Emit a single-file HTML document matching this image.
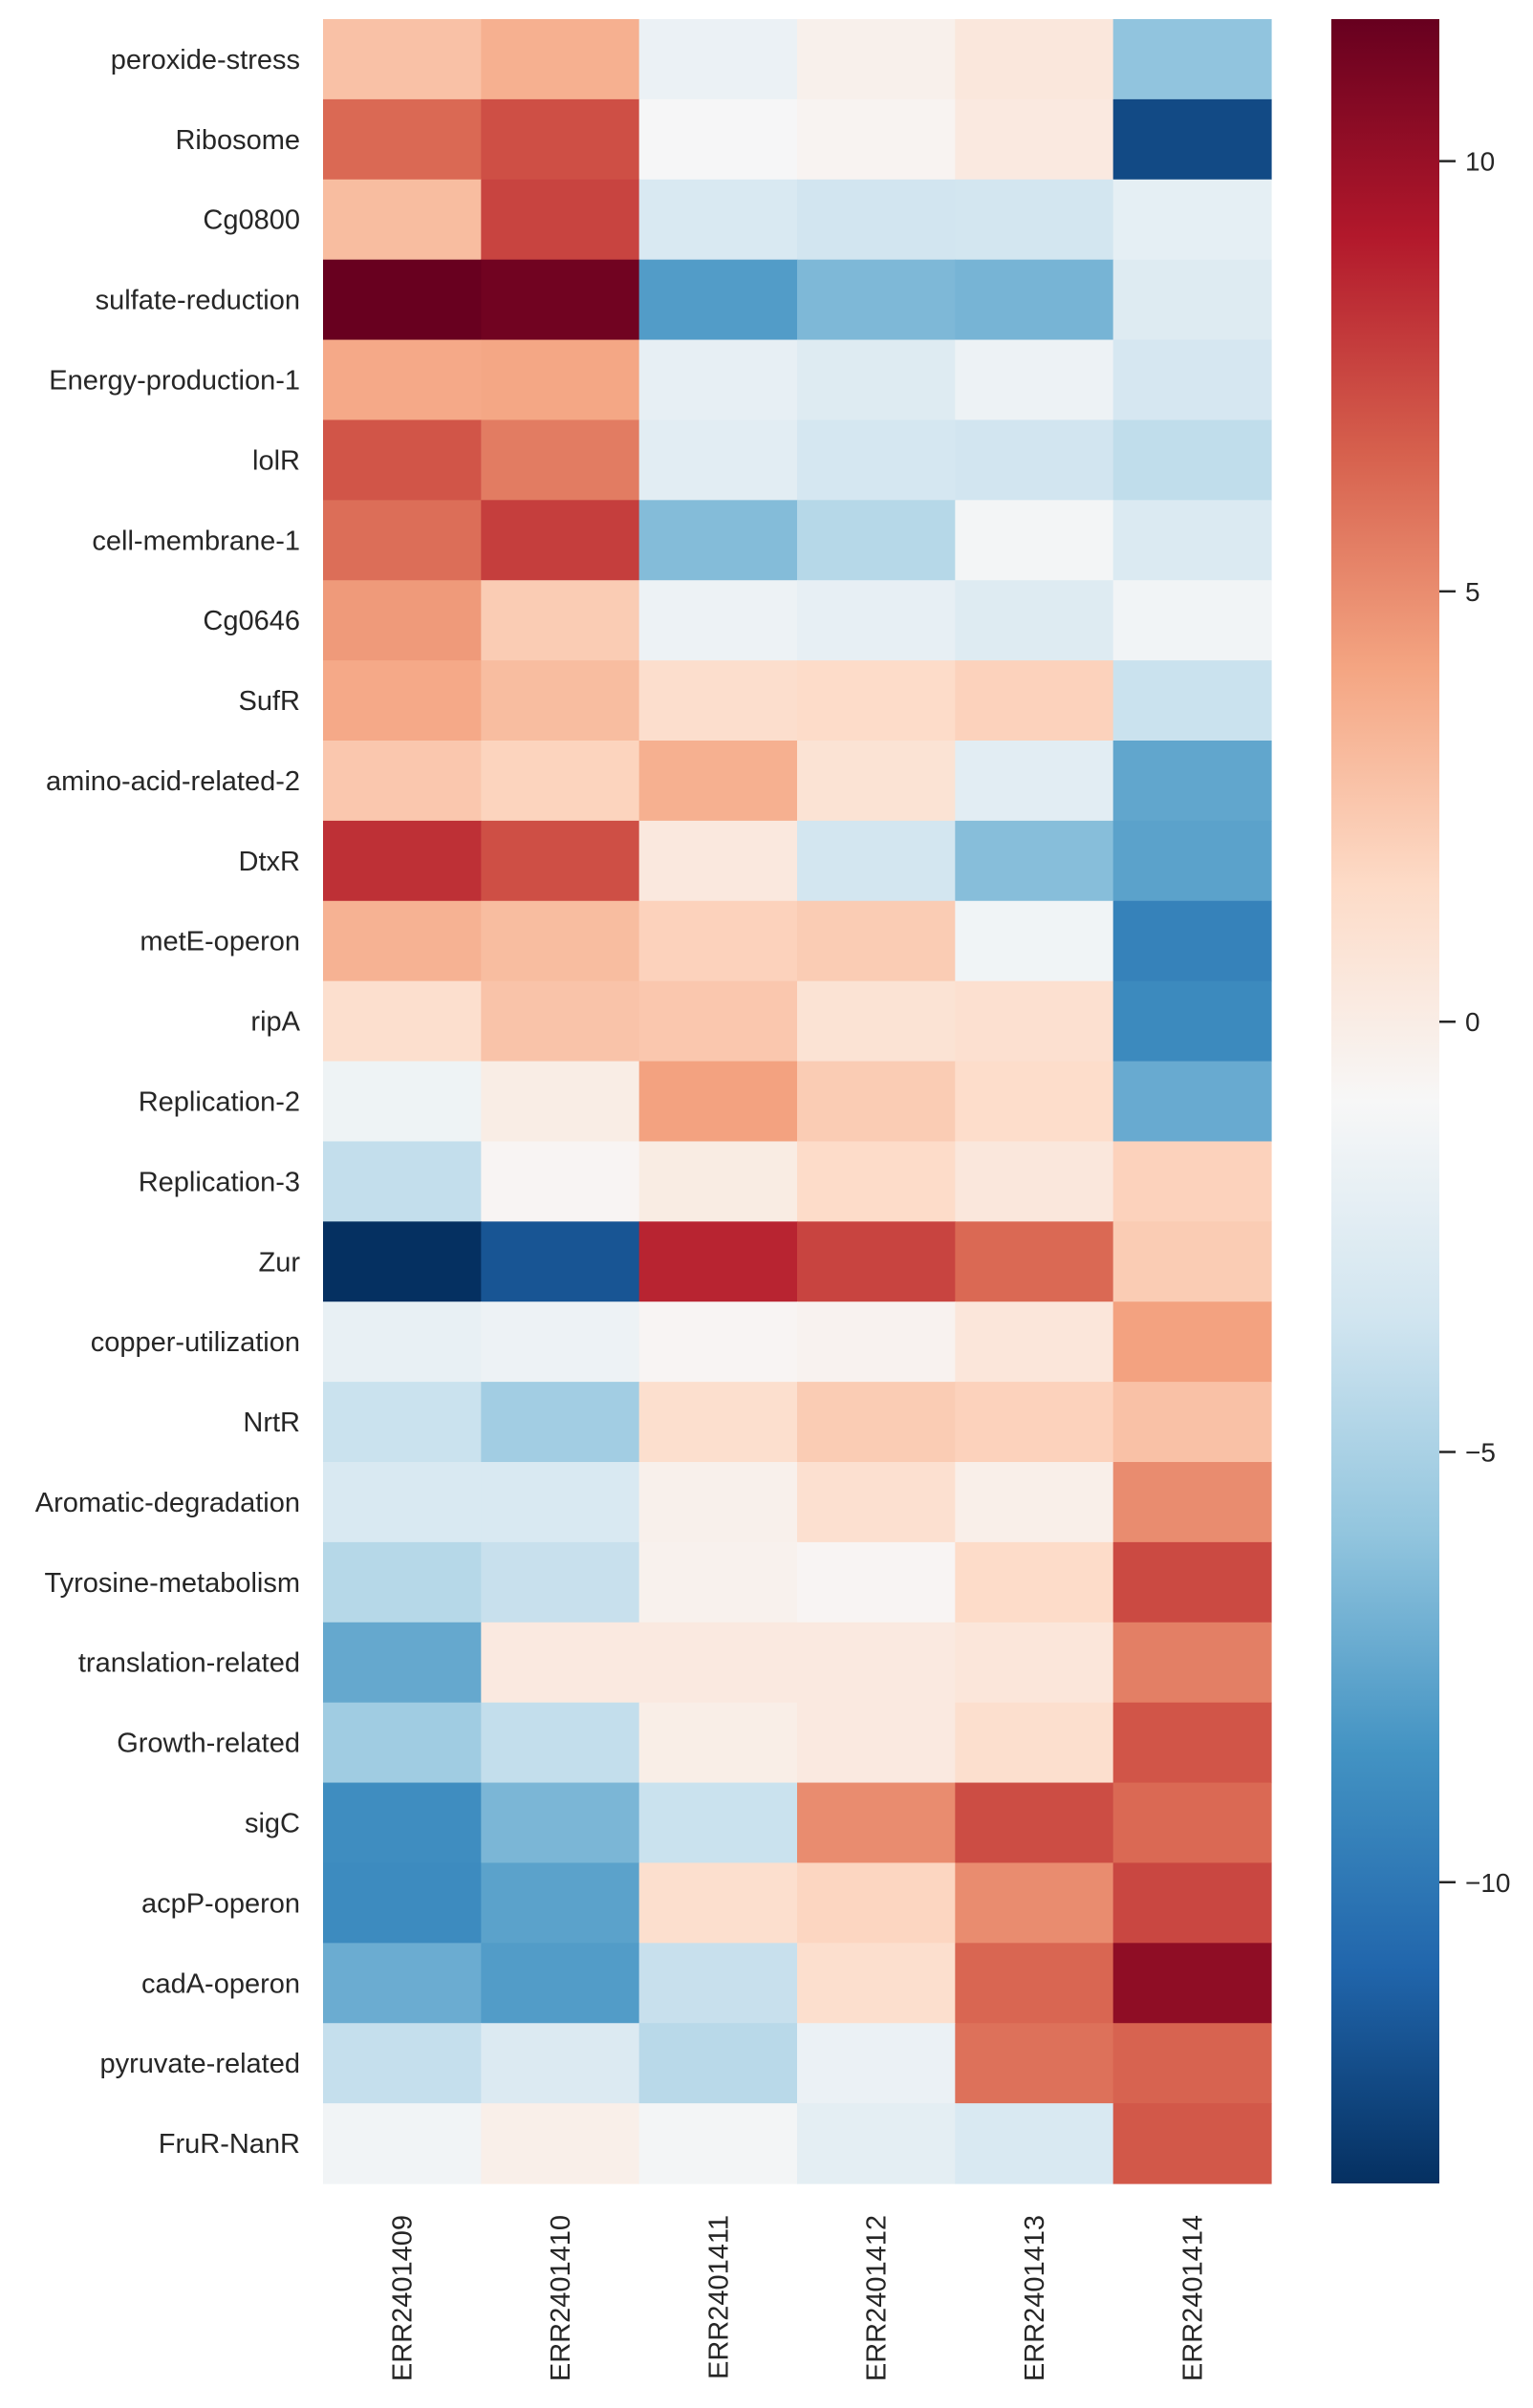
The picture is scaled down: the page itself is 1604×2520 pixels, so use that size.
<!DOCTYPE html>
<html><head><meta charset="utf-8"><style>
html,body{margin:0;padding:0;background:#fff;}
svg text{font-family:"Liberation Sans",Arial,sans-serif;fill:#262626;}
</style></head><body>
<svg id="chart" width="1604" height="2515" viewBox="0 0 1604 2515" xmlns="http://www.w3.org/2000/svg">
<defs>
<linearGradient id="cbgrad" x1="0" y1="1" x2="0" y2="0">
<stop offset="0" stop-color="#053061"/><stop offset="0.1" stop-color="#2166ac"/><stop offset="0.2" stop-color="#4393c3"/><stop offset="0.3" stop-color="#92c5de"/><stop offset="0.4" stop-color="#d1e5f0"/><stop offset="0.5" stop-color="#f7f7f7"/><stop offset="0.6" stop-color="#fddbc7"/><stop offset="0.7" stop-color="#f4a582"/><stop offset="0.8" stop-color="#d6604d"/><stop offset="0.9" stop-color="#b2182b"/><stop offset="1" stop-color="#67001f"/>
</linearGradient>
</defs>
<g id="cells"></g>
<g id="ylabels"></g>
<g id="xlabels"></g>
<rect x="1393" y="20" width="113" height="2265" fill="url(#cbgrad)"/>
<g id="cbticks"></g>
</svg>
<script>
const rows = ["peroxide-stress","Ribosome","Cg0800","sulfate-reduction","Energy-production-1","lolR","cell-membrane-1","Cg0646","SufR","amino-acid-related-2","DtxR","metE-operon","ripA","Replication-2","Replication-3","Zur","copper-utilization","NrtR","Aromatic-degradation","Tyrosine-metabolism","translation-related","Growth-related","sigC","acpP-operon","cadA-operon","pyruvate-related","FruR-NanR"];
const cols = ["ERR2401409","ERR2401410","ERR2401411","ERR2401412","ERR2401413","ERR2401414"];
const values = [
[2.8,3.6,-1.7,-0.3,0.5,-6.0],
[6.3,7.2,-1.0,-0.6,0.3,-12.3],
[3.0,7.6,-2.9,-3.4,-3.3,-2.1],
[11.6,11.3,-8.0,-6.6,-6.8,-2.6],
[3.9,4.0,-2.0,-2.6,-1.6,-3.1],
[7.0,5.6,-2.3,-3.2,-3.4,-4.1],
[6.1,7.8,-6.4,-4.5,-1.2,-2.8],
[4.5,2.3,-1.6,-2.0,-2.6,-1.3],
[3.9,3.0,1.3,1.5,2.0,-3.7],
[2.5,1.9,3.6,0.9,-2.3,-7.5],
[8.3,7.2,0.4,-3.3,-6.3,-7.7],
[3.5,3.0,2.0,2.3,-1.4,-9.4],
[1.2,2.7,2.5,0.9,1.1,-9.0],
[-1.5,0.0,4.2,2.3,1.4,-7.3],
[-4.0,-0.7,0.1,1.5,0.5,2.0],
[-13.5,-11.8,8.7,7.6,6.3,2.3],
[-1.9,-1.6,-0.7,-0.5,0.6,4.2],
[-3.7,-5.3,1.2,2.3,2.0,2.8],
[-2.9,-2.9,-0.3,1.1,-0.2,5.0],
[-4.5,-3.8,-0.4,-0.7,1.5,7.4],
[-7.4,0.3,0.3,0.3,0.6,5.5],
[-5.4,-4.0,-0.1,0.3,1.2,7.0],
[-8.8,-6.7,-3.7,5.0,7.3,6.3],
[-8.9,-7.7,1.2,1.8,5.0,7.5],
[-7.2,-8.0,-3.8,1.2,6.4,10.3],
[-3.9,-2.7,-4.4,-1.7,6.0,6.5],
[-1.3,-0.2,-1.2,-2.2,-2.9,6.9]
];
const cbTicks = [10,5,0,-5,-10];
const vmin = -13.5, vmax = 11.65;

const NS="http://www.w3.org/2000/svg";
const X0=338, X1=1330, Y0=20, Y1=2285;
const cw=(X1-X0)/cols.length, rh=(Y1-Y0)/rows.length;
const stops=["#053061","#2166ac","#4393c3","#92c5de","#d1e5f0","#f7f7f7","#fddbc7","#f4a582","#d6604d","#b2182b","#67001f"].map(h=>[parseInt(h.substr(1,2),16),parseInt(h.substr(3,2),16),parseInt(h.substr(5,2),16)]);
function color(v){let f=(v-vmin)/(vmax-vmin);f=Math.max(0,Math.min(1,f));const p=f*10;const i=Math.min(9,Math.floor(p));const t=p-i;const a=stops[i],b=stops[i+1];return "rgb("+a.map((c,k)=>Math.round(c+(b[k]-c)*t)).join(",")+")";}
function cbY(v){return Y0+(vmax-v)/(vmax-vmin)*(Y1-Y0);}
function mk(tag,attrs,parent){const e=document.createElementNS(NS,tag);for(const k in attrs)e.setAttribute(k,attrs[k]);parent.appendChild(e);return e;}
const gc=document.getElementById('cells'),gy=document.getElementById('ylabels'),gx=document.getElementById('xlabels'),gt=document.getElementById('cbticks');
rows.forEach((r,i)=>{
  cols.forEach((c,j)=>{
    const e=mk('rect',{x:X0+j*cw,y:Y0+i*rh,width:cw+0.6,height:rh+0.6,fill:color(values[i][j])},gc);
    
    
  });
  const t=mk('text',{x:314,y:Y0+(i+0.5)*rh+10,'text-anchor':'end','font-size':29},gy);
  t.textContent=r;
  
  
});
cols.forEach((c,j)=>{
  const cx=X0+(j+0.5)*cw;
  const t=mk('text',{x:0,y:0,'text-anchor':'end','font-size':29,transform:'translate('+(cx+10)+',2318) rotate(-90)'},gx);
  t.textContent=c;
  
  
});
cbTicks.forEach(v=>{
  const y=cbY(v);
  const l=mk('line',{x1:1506,x2:1523,y1:y,y2:y,stroke:'#262626','stroke-width':2.5},gt);
  
  
  const t=mk('text',{x:1533,y:y+10,'font-size':28},gt);
  t.textContent=v<0?'\u2212'+(-v):String(v);
  
  
});
</script>
</body></html>
